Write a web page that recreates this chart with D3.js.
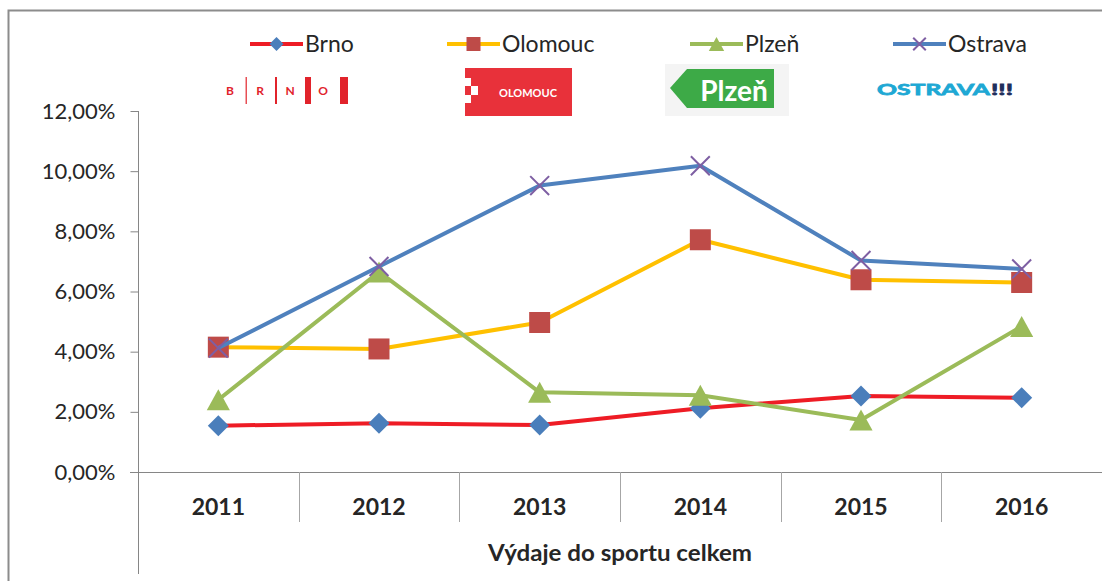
<!DOCTYPE html>
<html>
<head>
<meta charset="utf-8">
<script src="https://cdn.jsdelivr.net/npm/d3@7"></script>
<style>
  body { margin: 0; background: #fff; }
  text { font-family: Lato, 'Open Sans', sans-serif; fill: #262626; }
</style>
</head>
<body>
<div id="chart"></div>
<script>
// data (in %)
const years = ['2011', '2012', '2013', '2014', '2015', '2016']
const brno = [1.54, 1.62, 1.56, 2.12, 2.53, 2.47]
const olomouc = [4.15, 4.09, 4.97, 7.72, 6.39, 6.30]
const plzen = [2.40, 6.65, 2.65, 2.55, 1.73, 4.84]
const ostrava = [4.12, 6.83, 9.52, 10.18, 7.03, 6.75]
const yTicks = [0, 2, 4, 6, 8, 10, 12]
const seriesNames = ['Brno', 'Olomouc', 'Plzeň', 'Ostrava']
const axisTitle = 'Výdaje do sportu celkem'

let svgWidth = 1102
let svgHeight = 581
let svg = d3.select('#chart').append('svg')
    .attr('width', svgWidth)
    .attr('height', svgHeight)

let series = [
    { name: seriesNames[0], values: brno, line: '#ee1c25', fill: '#4a7ebb', marker: 'diamond' },
    { name: seriesNames[1], values: olomouc, line: '#ffc000', fill: '#be4b48', marker: 'square' },
    { name: seriesNames[2], values: plzen, line: '#9bbb59', fill: '#9bbb59', marker: 'triangle' },
    { name: seriesNames[3], values: ostrava, line: '#4f81bd', fill: '#7e5fa3', marker: 'cross' }
]

// chart border
svg.append('path')
    .attr('d', 'M8.5,581 V10.5 H1102')
    .attr('fill', 'none')
    .attr('stroke', '#8c8c8c')
    .attr('stroke-width', 2)

let x = d3.scaleBand()
    .domain(years)
    .range([138, 1102])
let y = d3.scaleLinear()
    .domain([0, 12])
    .range([472, 111])

// y axis
let axis_y = d3.axisLeft(y)
    .tickValues(yTicks)
    .tickSize(8)
    .tickPadding(15)
    .tickFormat(d => d.toFixed(2).replace('.', ',') + '%')
let gy = svg.append('g')
    .attr('transform', 'translate(138.5, 0)')
    .call(axis_y)
gy.select('.domain').remove()
gy.selectAll('line').attr('stroke', '#868686')
gy.selectAll('text')
    .attr('font-size', '22px')
    .style('font-family', 'Lato, sans-serif')
    .attr('fill', '#262626')

svg.append('line')
    .attr('x1', 138.5).attr('x2', 138.5)
    .attr('y1', y(12)).attr('y2', 574)
    .attr('stroke', '#868686')

// x axis
svg.append('line')
    .attr('x1', 130).attr('x2', 1102)
    .attr('y1', y(0) + 0.5).attr('y2', y(0) + 0.5)
    .attr('stroke', '#868686')
svg.append('g')
    .selectAll('line')
    .data(years.slice(1))
    .enter()
    .append('line')
    .attr('x1', d => Math.round(x(d)) + 0.5)
    .attr('x2', d => Math.round(x(d)) + 0.5)
    .attr('y1', y(0))
    .attr('y2', 522)
    .attr('stroke', '#a6a6a6')
svg.append('g')
    .selectAll('text')
    .data(years)
    .enter()
    .append('text')
    .attr('x', d => x(d) + x.bandwidth() / 2)
    .attr('y', 515)
    .attr('text-anchor', 'middle')
    .attr('font-size', '23px')
    .attr('font-weight', 'bold')
    .text(d => d)
svg.append('text')
    .attr('x', (x.range()[0] + x.range()[1]) / 2)
    .attr('y', 561)
    .attr('text-anchor', 'middle')
    .attr('font-size', '23px')
    .attr('font-weight', 'bold')
    .attr('textLength', 264)
    .attr('lengthAdjust', 'spacingAndGlyphs')
    .text(axisTitle)

function markerPath(type, s) {
    if (type == 'diamond') return `M0,${-s}L${s},0L0,${s}L${-s},0Z`
    if (type == 'square') return `M${-s},${-s}H${s}V${s}H${-s}Z`
    if (type == 'triangle') return `M0,${-s}L${s * 1.1},${s}L${-s * 1.1},${s}Z`
    return `M${-s},${-s}L${s},${s}M${-s},${s}L${s},${-s}`
}

function drawMarker(g, type, color, s) {
    if (type == 'cross') {
        g.append('path')
            .attr('d', markerPath(type, s * 0.9))
            .attr('stroke', color)
            .attr('stroke-width', 2)
            .attr('fill', 'none')
    } else {
        g.append('path')
            .attr('d', markerPath(type, s))
            .attr('fill', color)
    }
}

let line = d3.line()
    .x((d, i) => x(years[i]) + x.bandwidth() / 2)
    .y(d => y(d))

series.forEach(s => {
    svg.append('path')
        .datum(s.values)
        .attr('d', line)
        .attr('fill', 'none')
        .attr('stroke', s.line)
        .attr('stroke-width', 4)
        .attr('stroke-linejoin', 'round')
    s.values.forEach((v, i) => {
        let g = svg.append('g')
            .attr('transform', `translate(${x(years[i]) + x.bandwidth() / 2}, ${y(v)})`)
        drawMarker(g, s.marker, s.fill, 10.5)
    })
})

// legend
let legendX = [250, 447, 690, 893]
series.forEach((s, i) => {
    let g = svg.append('g').attr('transform', `translate(${legendX[i]}, 44)`)
    g.append('line')
        .attr('x1', 0).attr('x2', 53)
        .attr('stroke', s.line)
        .attr('stroke-width', 4)
    let m = g.append('g').attr('transform', 'translate(26.5, 0)')
    drawMarker(m, s.marker, s.fill, 7)
    g.append('text')
        .attr('x', 55)
        .attr('dy', '0.35em')
        .attr('font-size', '23px')
        .text(s.name)
})

// city logos
let logos = svg.append('g')

// Brno
let brnoLogo = logos.append('g').attr('fill', '#e1232b')
let brnoLetters = ['B', 'R', 'N', 'O']
let brnoLx = [230, 260, 290, 323]
brnoLetters.forEach((l, i) => {
    brnoLogo.append('text')
        .attr('x', brnoLx[i])
        .attr('y', 95)
        .attr('text-anchor', 'middle')
        .attr('font-size', '12px')
        .attr('font-weight', 'bold')
        .style('fill', '#e1232b')
        .text(l)
})
brnoLogo.append('rect').attr('x', 245.5).attr('y', 77).attr('width', 1.5).attr('height', 27).attr('opacity', 0.8)
brnoLogo.append('rect').attr('x', 275).attr('y', 77).attr('width', 2).attr('height', 27)
brnoLogo.append('rect').attr('x', 305).attr('y', 77).attr('width', 6).attr('height', 27)
brnoLogo.append('rect').attr('x', 340).attr('y', 77).attr('width', 8).attr('height', 27)

// Olomouc
let olLogo = logos.append('g')
olLogo.append('rect')
    .attr('x', 465).attr('y', 68).attr('width', 107).attr('height', 48)
    .attr('fill', '#e8313a')
olLogo.append('rect').attr('x', 465).attr('y', 78).attr('width', 6).attr('height', 8).attr('fill', '#fff')
olLogo.append('rect').attr('x', 471).attr('y', 86).attr('width', 7).attr('height', 9).attr('fill', '#fff')
olLogo.append('rect').attr('x', 465).attr('y', 95).attr('width', 6).attr('height', 8).attr('fill', '#fff')
olLogo.append('text')
    .attr('x', 528).attr('y', 93)
    .attr('dy', '0.35em')
    .attr('text-anchor', 'middle')
    .attr('font-size', '11px')
    .attr('font-weight', 'bold')
    .style('fill', '#fff')
    .text('OLOMOUC')

// Plzen
let plLogo = logos.append('g')
plLogo.append('rect')
    .attr('x', 665).attr('y', 64).attr('width', 124).attr('height', 52)
    .attr('fill', '#f4f4f4')
plLogo.append('path')
    .attr('d', 'M670,88 L687,69 H774 V108 H687 Z')
    .attr('fill', '#3daa47')
plLogo.append('text')
    .attr('x', 734).attr('y', 101)
    .attr('text-anchor', 'middle')
    .attr('font-size', '28px')
    .attr('font-weight', 'bold')
    .style('fill', '#fff')
    .text('Plzeň')

// Ostrava
let osLogo = logos.append('g')
osLogo.append('text')
    .attr('x', 877).attr('y', 95)
    .attr('font-size', '16px')
    .attr('font-weight', 'bold')
    .attr('textLength', 113)
    .attr('lengthAdjust', 'spacingAndGlyphs')
    .attr('stroke', '#1ea8d4')
    .attr('stroke-width', 0.8)
    .style('fill', '#1ea8d4')
    .text('OSTRAVA')
osLogo.append('text')
    .attr('x', 991).attr('y', 95)
    .attr('font-size', '16px')
    .attr('font-weight', 'bold')
    .attr('textLength', 22)
    .attr('lengthAdjust', 'spacingAndGlyphs')
    .attr('stroke', '#1f2f5c')
    .attr('stroke-width', 0.8)
    .style('fill', '#1f2f5c')
    .text('!!!')
</script>
</body>
</html>
